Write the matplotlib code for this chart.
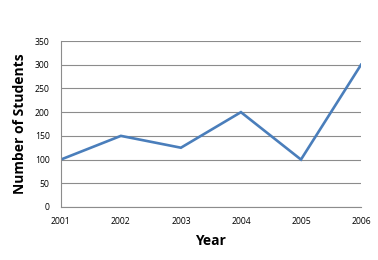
import matplotlib
matplotlib.use("Agg")
import matplotlib.pyplot as plt

years = ["2001", "2002", "2003", "2004", "2005", "2006"]
students = [100, 150, 125, 200, 100, 300]
yticks = [0, 50, 100, 150, 200, 250, 300, 350]

plt.rcParams['font.family'] = ['Open Sans', 'DejaVu Sans']

fig = plt.figure(figsize=(3.78, 2.6), dpi=100)
ax = fig.add_axes([0.161, 0.204, 0.794, 0.638])
x = list(range(len(years)))
ax.plot(x, students, color="#4A7EBB", linewidth=1.9, solid_joinstyle="miter")
ax.set_xlim(0, len(years) - 1)
ax.set_ylim(0, 350)
ax.set_xticks(x)
ax.set_xticklabels(years)
ax.set_yticks(yticks)
ax.grid(axis="y", color="#8C8C8C", linewidth=0.8)
ax.set_axisbelow(True)
for s in ["top", "right"]:
    ax.spines[s].set_visible(False)
for s in ["left", "bottom"]:
    ax.spines[s].set_color("#8C8C8C")
    ax.spines[s].set_linewidth(0.8)
ax.tick_params(length=0, labelsize=6.2, pad=7.5)
ax.tick_params(axis="y", pad=8)
ax.set_xlabel("Year", fontsize=10, fontweight="bold", labelpad=5.5)
ax.set_ylabel("Number of Students", fontsize=10, fontweight="bold", labelpad=6)
fig.savefig("out.png", dpi=100)
